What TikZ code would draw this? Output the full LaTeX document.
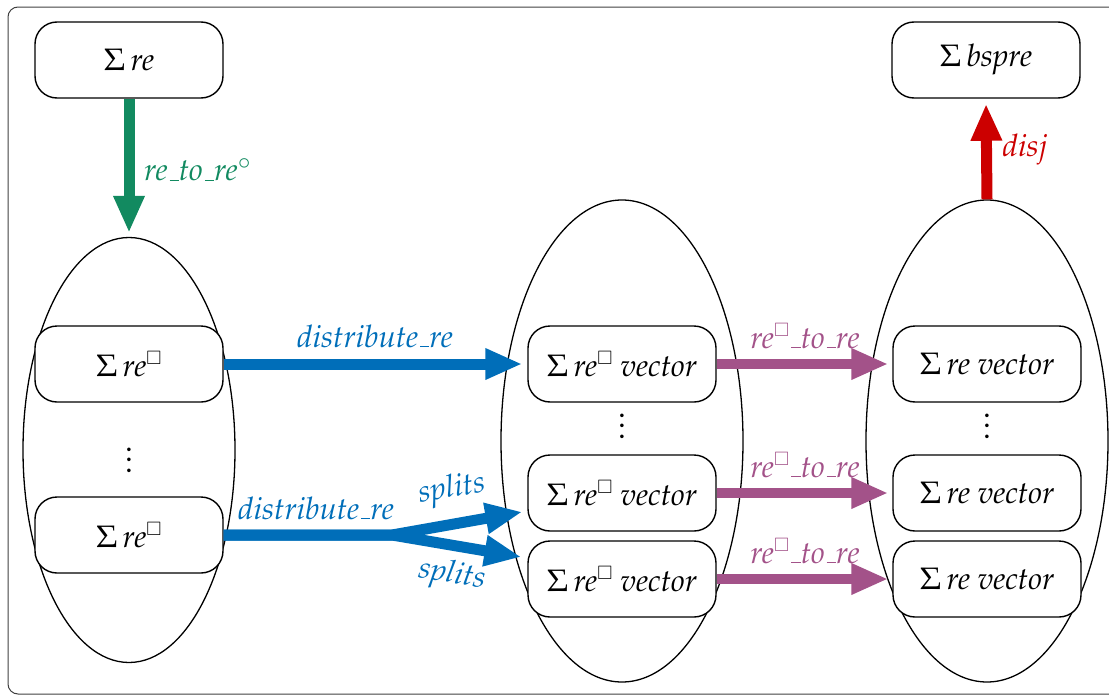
\documentclass[tikz,border=0pt]{standalone}
\usepackage[T1]{fontenc}
\usepackage{mathpazo}
\usepackage{amssymb}
\usetikzlibrary{arrows.meta,shapes.geometric,calc}
\definecolor{greenA}{RGB}{18,138,96}
\definecolor{blueA}{RGB}{0,110,185}
\definecolor{purpA}{RGB}{163,82,137}
\definecolor{redA}{RGB}{204,0,0}
\newcommand{\sqsup}{$^{\scriptscriptstyle\square}$}
\newcommand{\us}{\leavevmode\kern.06em\vbox{\hrule width.3em height 0.9pt}}
\newcommand{\bigvdots}{\vbox{\baselineskip=10.5pt\lineskiplimit=0pt\hbox{.}\hbox{.}\hbox{.}}}
\begin{document}
\begin{tikzpicture}[x=1pt,y=-1pt,
  font=\fontsize{31}{37}\selectfont,
  rbox/.style={draw, line width=1.4pt, rounded corners=22pt, minimum width=188pt, minimum height=76pt, inner sep=0pt},
  ell/.style={draw, ellipse, line width=1.3pt, inner sep=0pt},
  fat/.style={line width=11pt, -{Triangle[length=37pt,width=29pt]}},
  lab/.style={inner sep=1pt}]
\useasboundingbox (0,0) rectangle (1109,696);
\draw[black!75, line width=1pt, rounded corners=10pt] (8,7) rectangle (1130,694);
% ellipses
\node[ell, minimum width=212pt, minimum height=425pt] (L) at (129,450) {};
\node[ell, minimum width=242pt, minimum height=482pt] (M) at (622,441) {};
\node[ell, minimum width=242pt, minimum height=482pt] (R) at (987,441) {};
% boxes
\node[rbox, fill=white] (top) at (129,60) {$\Sigma$\,\textit{re}};
\node[rbox, fill=white] (bs) at (986,60) {$\Sigma$\,\textit{bspre}};
\node[rbox, fill=white] (l1) at (129,364) {$\Sigma$\,\textit{re}\sqsup};
\node[rbox, fill=white] (l2) at (129,535) {$\Sigma$\,\textit{re}\sqsup};
\node (ld) at (129,460) {\bigvdots};
\node[rbox, fill=white] (m1) at (622,364) {$\Sigma$\,\textit{re}\sqsup{} \textit{vector}};
\node[rbox, fill=white] (m2) at (622,493) {$\Sigma$\,\textit{re}\sqsup{} \textit{vector}};
\node[rbox, fill=white] (m3) at (622,579) {$\Sigma$\,\textit{re}\sqsup{} \textit{vector}};
\node (md) at (622,426) {\bigvdots};
\node[rbox, fill=white] (r1) at (987,364) {$\Sigma$\,\textit{re vector}};
\node[rbox, fill=white] (r2) at (987,493) {$\Sigma$\,\textit{re vector}};
\node[rbox, fill=white] (r3) at (987,579) {$\Sigma$\,\textit{re vector}};
\node (rd) at (987,426) {\bigvdots};
% arrows
\draw[fat, greenA, shorten >=4pt] (top.south) -- (L.north);
\draw[fat, redA, shorten >=5pt] (R.north) -- (bs.south);
\draw[fat, blueA, shorten >=5pt] (l1.east) -- (m1.west);
\coordinate (sp) at (392,535);
\coordinate (t1) at ($(m2.west)+(0,18)$);
\coordinate (t2) at ($(m3.west)+(0,-21)$);
\draw[fat, blueA, shorten >=5pt] (l2.east) -- (sp) -- (t1);
\draw[fat, blueA, shorten >=6pt] (l2.east) -- (sp) -- (t2);
\draw[fat, purpA, line width=10pt, shorten >=4pt] (m1.east) -- (r1.west);
\draw[fat, purpA, line width=10pt, shorten >=4pt] (m2.east) -- (r2.west);
\draw[fat, purpA, line width=10pt, shorten >=4pt] (m3.east) -- (r3.west);
% labels
\node[lab, text=greenA, anchor=west] (gl) at (143,170) {\textit{re\us to\us re}$^{\circ}$};
\node[lab, text=redA] (rl) at (1025,150) {\textit{disj}};
\node[lab, text=blueA] (bl1) at (375,336) {\textit{distribute\us re}};
\node[lab, text=blueA] (bl2) at (316,508) {\textit{distribute\us re}};
\node[lab, text=blueA, rotate=9] (sl1) at (452,490) {\textit{splits}};
\node[lab, text=blueA, rotate=-9] (sl2) at (452,576) {\textit{splits}};
\node[lab, text=purpA] (pl1) at (805,336) {\textit{re}\sqsup\textit{\us to\us re}};
\node[lab, text=purpA] (pl2) at (805,465) {\textit{re}\sqsup\textit{\us to\us re}};
\node[lab, text=purpA] (pl3) at (805,551) {\textit{re}\sqsup\textit{\us to\us re}};
\end{tikzpicture}
\end{document}
